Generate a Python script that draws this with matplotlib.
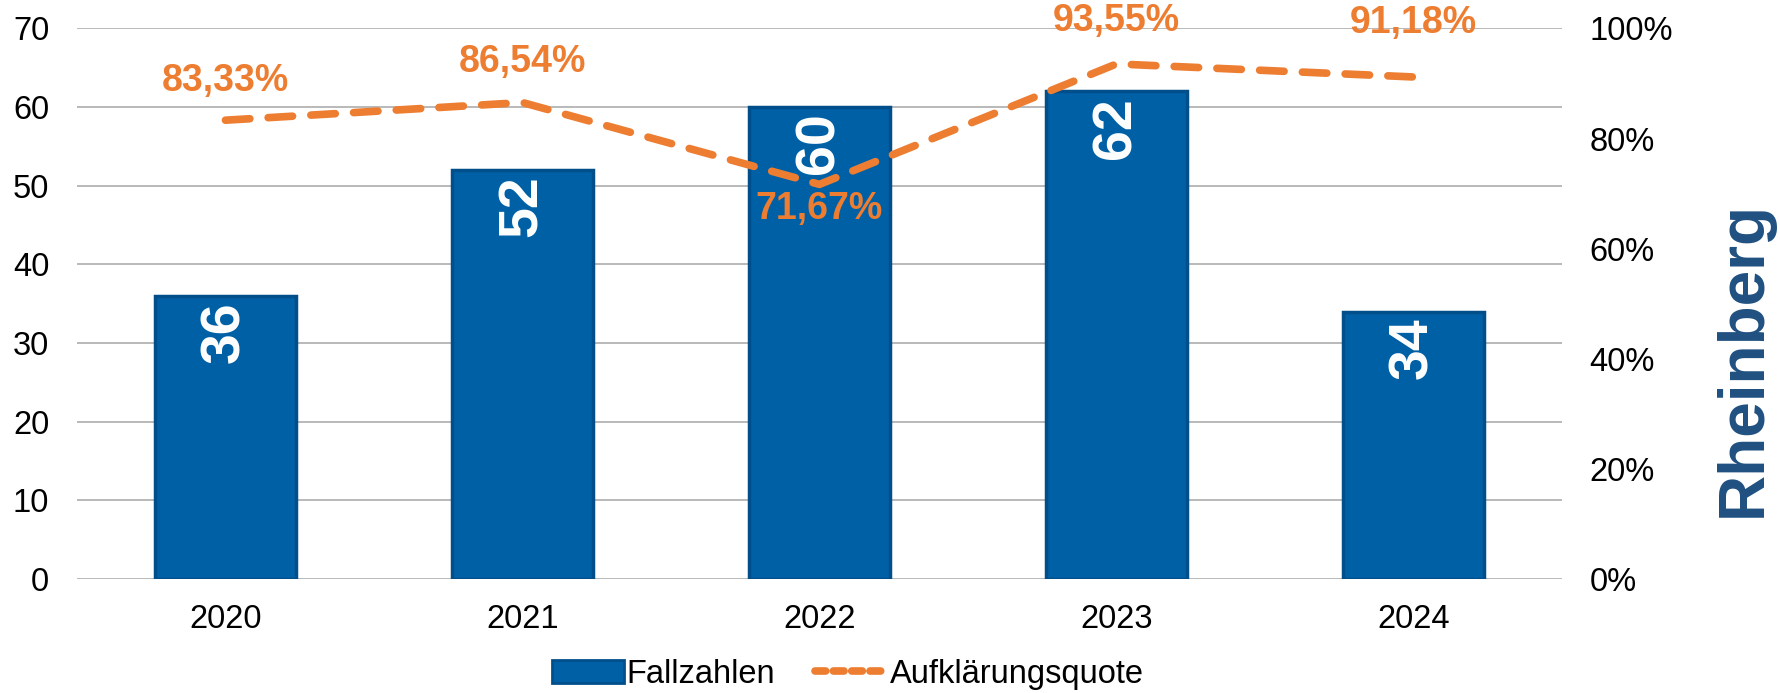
import numpy as np
import matplotlib.pyplot as plt
from matplotlib.patches import Patch
from matplotlib.lines import Line2D

plt.rcParams['font.family'] = ['Liberation Sans', 'DejaVu Sans']

years = ['2020', '2021', '2022', '2023', '2024']
fallzahlen = [36, 52, 60, 62, 34]
quote = [83.33, 86.54, 71.67, 93.55, 91.18]
quote_labels = ['83,33%', '86,54%', '71,67%', '93,55%', '91,18%']
# label offsets (points) relative to the line points
label_offsets = [(0, 28), (0, 29), (0, -18), (0, 31), (0, 39)]

BLUE = '#0060A6'
BLUE_EDGE = '#004F8A'
ORANGE = '#ED7D31'
GRID = '#B3B3B3'

fig = plt.figure(figsize=(17.81, 6.93), dpi=100)
ax = fig.add_axes([0.0432, 0.1645, 0.8338, 0.7945])
x = np.arange(len(years))

ax.bar(x, fallzahlen, width=0.475, color=BLUE, edgecolor=BLUE_EDGE,
       linewidth=2.5, zorder=2)
ax.set_xlim(-0.5, len(years) - 0.5)
ax.set_ylim(0, 70)
ax.set_yticks(range(0, 71, 10))
ax.set_xticks(x)
ax.set_xticklabels(years)
ax.yaxis.grid(True, color=GRID, linewidth=1.3, zorder=0)
ax.set_axisbelow(True)
for s in ax.spines.values():
    s.set_visible(False)
ax.tick_params(axis='both', length=0, labelsize=23.5)
ax.tick_params(axis='y', pad=20)
ax.tick_params(axis='x', pad=18)

ax2 = ax.twinx()
ax2.set_ylim(0, 100)
ax2.set_yticks(range(0, 101, 20))
ax2.set_yticklabels([f'{v}%' for v in range(0, 101, 20)])
for s in ax2.spines.values():
    s.set_visible(False)
ax2.tick_params(axis='y', length=0, labelsize=23.5, pad=20)

ax2.plot(x, quote, color=ORANGE, linewidth=5.5, linestyle=(0, (3.2, 2.4)),
         dash_capstyle='round', solid_capstyle='round', zorder=3)

for xi, q, lab, off in zip(x, quote, quote_labels, label_offsets):
    ax2.annotate(lab, (xi, q), xytext=off, textcoords='offset points',
                 ha='center', va='center', color=ORANGE, fontsize=27,
                 fontweight='bold')

# bar value labels drawn on top of the line
for xi, v in zip(x, fallzahlen):
    ax2.annotate(str(v), (xi, v), xycoords=ax.transData, xytext=(0, -4),
                 textcoords='offset points', ha='center', va='top',
                 rotation=90, color='white', fontsize=40, fontweight='bold',
                 zorder=5)

fig.text(0.979, 0.482, 'Rheinberg', rotation=90, ha='center', va='center',
         color='#1F5080', fontsize=46, fontweight='bold')

handles = [Patch(facecolor=BLUE, edgecolor=BLUE_EDGE, linewidth=2),
           Line2D([0], [0], color=ORANGE, linewidth=5.5, linestyle=(0, (1.4, 1.0)),
                  dash_capstyle='round')]
fig.legend(handles, ['Fallzahlen', 'Aufklärungsquote'], loc='center',
           bbox_to_anchor=(0.476, 0.027), ncol=2, frameon=False, fontsize=23.5,
           handlelength=2.2, handleheight=0.7, handletextpad=0.1,
           columnspacing=1.2)

fig.savefig('out.png', dpi=100)
